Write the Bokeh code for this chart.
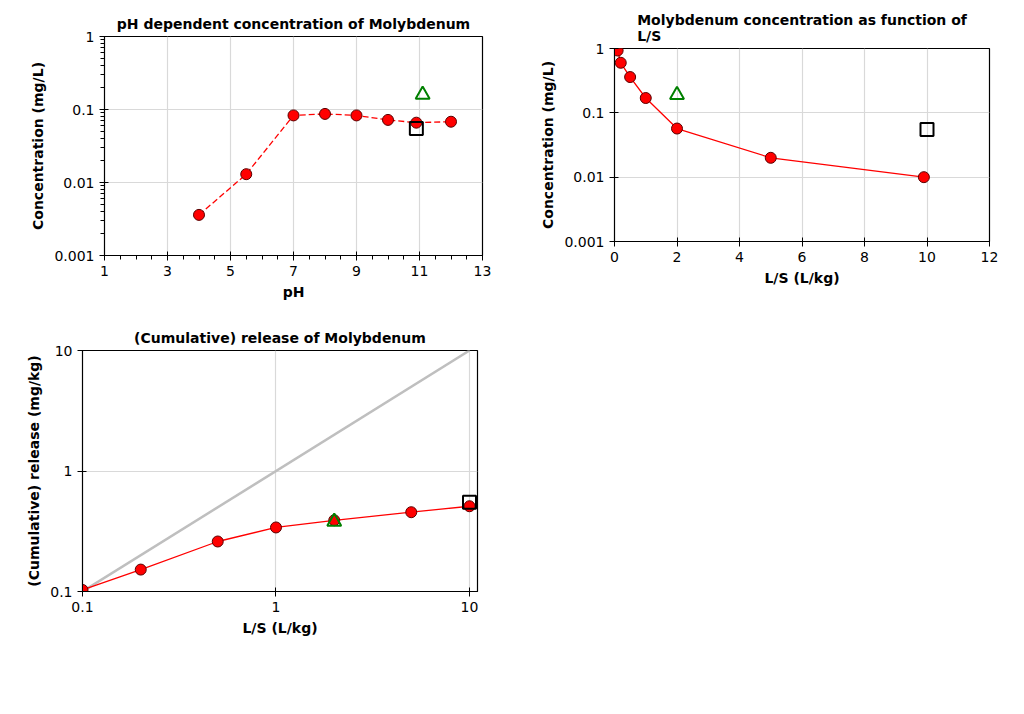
from bokeh.plotting import figure
from bokeh.layouts import column, row
from bokeh.models import FixedTicker, CustomJSTickFormatter, Range1d, Spacer
from bokeh.embed import file_html
from bokeh.resources import INLINE

FONT = "DejaVu Sans"

ph = [4, 5.5, 7, 8, 9, 10, 10.9, 12]
ph_conc = [0.0036, 0.013, 0.083, 0.087, 0.083, 0.072, 0.066, 0.068]
ph_tri = ([11.1], [0.16])
ph_sq = ([10.9], [0.055])

ls = [0.1, 0.2, 0.5, 1, 2, 5, 9.9]
ls_conc = [0.93, 0.6, 0.36, 0.17, 0.057, 0.02, 0.01]
ls_tri = ([2], [0.19])
ls_sq = ([10], [0.055])

cum_ls = [0.1, 0.2, 0.5, 1, 2, 5, 10]
cum_rel = [0.103, 0.152, 0.26, 0.34, 0.39, 0.455, 0.51]
cum_tri = ([2], [0.38])
cum_sq = ([10], [0.55])
diag = ([0.1, 10], [0.1, 10])

fmt = CustomJSTickFormatter(code="return String(Number(tick.toPrecision(6)));")

def minors(decades):
    out = []
    for d in decades:
        out += [d * k for k in range(2, 10)]
    return out

def style(p, title, xlabel, ylabel):
    p.title.text = title
    p.title.align = "center"
    p.title.text_font = FONT
    p.title.text_font_size = "14px"
    p.title.text_font_style = "bold"
    p.title.text_color = "black"
    p.outline_line_color = "black"
    p.outline_line_width = 1.2
    p.grid.grid_line_color = "#d9d9d9"
    p.grid.grid_line_width = 1.2
    for ax in (p.xaxis[0], p.yaxis[0]):
        ax.axis_label_text_font = FONT
        ax.axis_label_text_font_style = "bold"
        ax.axis_label_text_font_size = "14px"
        ax.axis_label_text_color = "black"
        ax.major_label_text_font = FONT
        ax.major_label_text_font_size = "14px"
        ax.major_label_text_color = "black"
        ax.major_tick_in = 4
        ax.major_tick_out = 5
        ax.minor_tick_in = 0
        ax.minor_tick_out = 4
        ax.axis_line_color = "black"
        ax.major_tick_line_color = "black"
        ax.minor_tick_line_color = "black"
    p.xaxis.axis_label = xlabel
    p.yaxis.axis_label = ylabel

def marks(p, x, y, tri, sq, dash):
    p.line(x, y, line_color="red", line_width=1.3, line_dash=dash)
    p.scatter(x, y, size=11, fill_color="red", line_color="#5a0000", line_width=1)
    p.scatter(sq[0], sq[1], marker="square", size=13, fill_color=None, line_color="black", line_width=2)
    p.scatter(tri[0], tri[1], marker="triangle", size=14, fill_color=None, line_color="green", line_width=2)

# Chart 1
p1 = figure(frame_width=378, frame_height=219, y_axis_type="log", output_backend="svg", toolbar_location=None,
            x_range=Range1d(1, 13), y_range=Range1d(0.001, 1),
            min_border_left=104, min_border_right=30, min_border_top=10, min_border_bottom=10)
style(p1, "pH dependent concentration of Molybdenum", "pH", "Concentration (mg/L)")
p1.xaxis.ticker = FixedTicker(ticks=[1, 3, 5, 7, 9, 11, 13], minor_ticks=[1.5 + 0.5 * i for i in range(23)])
p1.yaxis.ticker = FixedTicker(ticks=[0.001, 0.01, 0.1, 1], minor_ticks=minors([0.001, 0.01, 0.1]))
p1.yaxis.formatter = fmt
marks(p1, ph, ph_conc, ph_tri, ph_sq, "6 3")

# Chart 2
p2 = figure(frame_width=375, frame_height=193, y_axis_type="log", output_backend="svg", toolbar_location=None,
            x_range=Range1d(0, 12), y_range=Range1d(0.001, 1),
            min_border_left=102, min_border_right=10, min_border_top=10, min_border_bottom=10)
style(p2, "Molybdenum concentration as function of\nL/S", "L/S (L/kg)", "Concentration (mg/L)")
p2.xaxis.ticker = FixedTicker(ticks=[0, 2, 4, 6, 8, 10, 12], minor_ticks=[])
p2.yaxis.ticker = FixedTicker(ticks=[0.001, 0.01, 0.1, 1], minor_ticks=[])
p2.yaxis.formatter = fmt
marks(p2, ls, ls_conc, ls_tri, ls_sq, "solid")

# Chart 3
p3 = figure(frame_width=395, frame_height=241, x_axis_type="log", y_axis_type="log", output_backend="svg",
            toolbar_location=None, x_range=Range1d(0.1, 11), y_range=Range1d(0.1, 10),
            min_border_left=82, min_border_right=35, min_border_top=10, min_border_bottom=10)
style(p3, "(Cumulative) release of Molybdenum", "L/S (L/kg)", "(Cumulative) release (mg/kg)")
p3.xaxis.ticker = FixedTicker(ticks=[0.1, 1, 10], minor_ticks=[])
p3.yaxis.ticker = FixedTicker(ticks=[0.1, 1, 10], minor_ticks=[])
p3.xaxis.formatter = fmt
p3.yaxis.formatter = fmt
p3.line(diag[0], diag[1], line_color="#bfbfbf", line_width=2.5)
marks(p3, cum_ls, cum_rel, cum_tri, cum_sq, "solid")

top = row(column(Spacer(height=8), p1), column(Spacer(height=4), p2))
layout = column(top, Spacer(height=20), p3)
open("out.html", "w").write(file_html(layout, INLINE))
